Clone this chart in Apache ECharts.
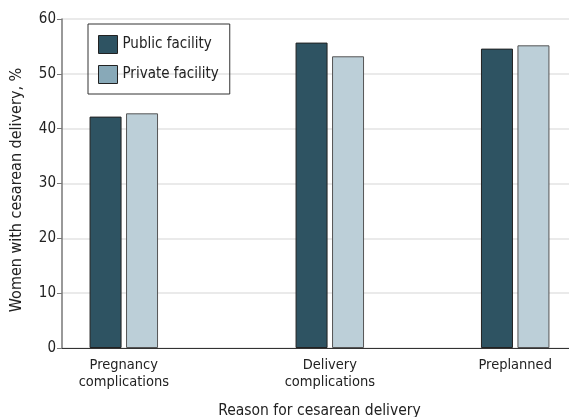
<!DOCTYPE html>
<html>
<head>
<meta charset="utf-8">
<script src="https://cdn.jsdelivr.net/npm/echarts@6/dist/echarts.min.js"></script>
<style>
html,body{margin:0;padding:0;background:#fff;}
#chart{width:569px;height:417px;}
</style>
</head>
<body>
<div id="chart"></div>
<script>
const categories = ['Pregnancy\ncomplications', 'Delivery\ncomplications', 'Preplanned'];
const publicFacility = [42.2, 55.7, 54.6];
const privateFacility = [42.8, 53.2, 55.2];
const seriesNames = ['Public facility', 'Private facility'];
const yTicks = [0, 10, 20, 30, 40, 50, 60];

// Layout: the reference spaces the groups unevenly, so categories sit on
// fine-grained axis slots (layout only, not data).
const slotCount = 26;
const slotOf = [3, 13, 22];
const axisData = new Array(slotCount).fill('');
const pubData = new Array(slotCount).fill(null);
const privData = new Array(slotCount).fill(null);
categories.forEach((c, i) => {
  axisData[slotOf[i]] = c;
  pubData[slotOf[i]] = publicFacility[i];
  privData[slotOf[i]] = privateFacility[i];
});

const FONT = '"DejaVu Sans Condensed", "DejaVu Sans", sans-serif';
const chart = echarts.init(document.getElementById('chart'), null, {renderer: 'canvas'});
chart.setOption({
  animation: false,
  textStyle: {fontFamily: FONT},
  grid: {left: 62, top: 19, bottom: 69, right: -8, containLabel: false, outerBoundsMode: 'none'},
  legend: {
    orient: 'vertical',
    left: 88, top: 24,
    padding: [11, 11, 10, 10],
    itemWidth: 19, itemHeight: 18, itemGap: 11,
    borderColor: '#333', borderWidth: 1,
    icon: 'rect',
    textStyle: {fontFamily: FONT, fontSize: 15, color: '#222'},
    data: [
      {name: seriesNames[0], itemStyle: {color: '#2e5362', borderColor: '#222', borderWidth: 1}},
      {name: seriesNames[1], itemStyle: {color: '#88a9b8', borderColor: '#222', borderWidth: 1}}
    ]
  },
  xAxis: {
    type: 'category',
    data: axisData,
    boundaryGap: false,
    axisLine: {lineStyle: {color: '#333', width: 1}},
    axisTick: {show: false},
    axisLabel: {interval: 0, fontFamily: FONT, fontSize: 14.5, color: '#222', lineHeight: 17.5, margin: 8},
    name: 'Reason for cesarean delivery',
    nameLocation: 'middle',
    nameGap: 55,
    nameTextStyle: {fontFamily: FONT, fontSize: 15.5, color: '#222'}
  },
  yAxis: {
    type: 'value',
    min: yTicks[0], max: yTicks[yTicks.length - 1], interval: 10,
    axisLine: {show: true, lineStyle: {color: '#777', width: 1.5}},
    axisTick: {show: true, length: 5, lineStyle: {color: '#777'}},
    axisLabel: {fontFamily: FONT, fontSize: 15, color: '#222', margin: 6},
    splitLine: {lineStyle: {color: '#e3e3e3', width: 1.5}},
    name: 'Women with cesarean delivery, %',
    nameLocation: 'middle',
    nameGap: 37,
    nameTextStyle: {fontFamily: FONT, fontSize: 16, color: '#222', padding: [0, 13, 0, 0]}
  },
  series: [
    {name: seriesNames[0], type: 'bar', data: pubData, barWidth: 32, barGap: '14%',
     itemStyle: {color: '#2e5362', borderColor: '#222', borderWidth: 1}},
    {name: seriesNames[1], type: 'bar', data: privData, barWidth: 32, barGap: '14%',
     itemStyle: {color: '#bccfd8', borderColor: '#555', borderWidth: 1}}
  ]
});
</script>
</body>
</html>
